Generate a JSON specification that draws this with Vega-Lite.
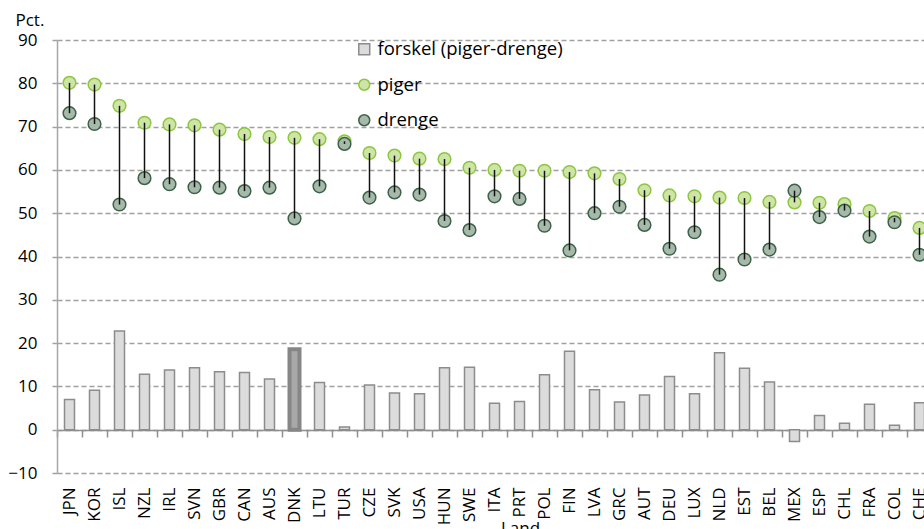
{
  "$schema": "https://vega.github.io/schema/vega-lite/v6.json",
  "width": 867,
  "height": 433,
  "autosize": {"type": "none"},
  "padding": {"left": 57, "top": 40, "right": 0, "bottom": 56},
  "config": {
    "font": "Open Sans",
    "view": {"stroke": null},
    "axis": {"labelColor": "#000000", "titleColor": "#000000", "titleFontWeight": "normal"}
  },
  "data": {
    "values": [
      {"land": "JPN", "piger": 80.1, "drenge": 73.1, "forskel": 7.0},
      {"land": "KOR", "piger": 79.7, "drenge": 70.6, "forskel": 9.1},
      {"land": "ISL", "piger": 74.8, "drenge": 52.0, "forskel": 22.8},
      {"land": "NZL", "piger": 70.9, "drenge": 58.1, "forskel": 12.8},
      {"land": "IRL", "piger": 70.5, "drenge": 56.7, "forskel": 13.8},
      {"land": "SVN", "piger": 70.3, "drenge": 56.0, "forskel": 14.3},
      {"land": "GBR", "piger": 69.3, "drenge": 55.9, "forskel": 13.4},
      {"land": "CAN", "piger": 68.3, "drenge": 55.1, "forskel": 13.2},
      {"land": "AUS", "piger": 67.6, "drenge": 55.9, "forskel": 11.7},
      {"land": "DNK", "piger": 67.4, "drenge": 48.8, "forskel": 18.6},
      {"land": "LTU", "piger": 67.1, "drenge": 56.2, "forskel": 10.9},
      {"land": "TUR", "piger": 66.6, "drenge": 66.0, "forskel": 0.6},
      {"land": "CZE", "piger": 63.9, "drenge": 53.6, "forskel": 10.3},
      {"land": "SVK", "piger": 63.3, "drenge": 54.8, "forskel": 8.5},
      {"land": "USA", "piger": 62.6, "drenge": 54.3, "forskel": 8.3},
      {"land": "HUN", "piger": 62.5, "drenge": 48.2, "forskel": 14.3},
      {"land": "SWE", "piger": 60.5, "drenge": 46.1, "forskel": 14.4},
      {"land": "ITA", "piger": 60.0, "drenge": 53.9, "forskel": 6.1},
      {"land": "PRT", "piger": 59.8, "drenge": 53.3, "forskel": 6.5},
      {"land": "POL", "piger": 59.8, "drenge": 47.1, "forskel": 12.7},
      {"land": "FIN", "piger": 59.5, "drenge": 41.4, "forskel": 18.1},
      {"land": "LVA", "piger": 59.2, "drenge": 50.0, "forskel": 9.2},
      {"land": "GRC", "piger": 57.9, "drenge": 51.5, "forskel": 6.4},
      {"land": "AUT", "piger": 55.3, "drenge": 47.3, "forskel": 8.0},
      {"land": "DEU", "piger": 54.1, "drenge": 41.8, "forskel": 12.3},
      {"land": "LUX", "piger": 53.9, "drenge": 45.6, "forskel": 8.3},
      {"land": "NLD", "piger": 53.6, "drenge": 35.8, "forskel": 17.8},
      {"land": "EST", "piger": 53.5, "drenge": 39.3, "forskel": 14.2},
      {"land": "BEL", "piger": 52.6, "drenge": 41.6, "forskel": 11.0},
      {"land": "MEX", "piger": 52.5, "drenge": 55.2, "forskel": -2.7},
      {"land": "ESP", "piger": 52.4, "drenge": 49.1, "forskel": 3.3},
      {"land": "CHL", "piger": 52.1, "drenge": 50.6, "forskel": 1.5},
      {"land": "FRA", "piger": 50.5, "drenge": 44.6, "forskel": 5.9},
      {"land": "COL", "piger": 48.9, "drenge": 47.9, "forskel": 1.0},
      {"land": "CHE", "piger": 46.6, "drenge": 40.4, "forskel": 6.2}
    ]
  },
  "layer": [
    {
      "transform": [{"fold": ["forskel"], "as": ["key", "value"]}],
      "mark": {"type": "bar", "width": {"band": 0.4}},
      "encoding": {
        "x": {
          "field": "land", "type": "nominal", "sort": null,
          "scale": {"range": [0, 875], "paddingInner": 0, "paddingOuter": 0},
          "axis": {
            "orient": "bottom", "domain": false, "ticks": false, "grid": false,
            "labelAngle": -90, "labelFontSize": 17, "labelPadding": 14,
            "title": "Land", "titleFontSize": 17, "titleX": 463, "titleY": 47,
            "titleBaseline": "top", "titleAlign": "center"
          }
        },
        "y": {
          "field": "value", "type": "quantitative",
          "scale": {"domain": [-10, 90], "nice": false, "zero": false},
          "axis": {
            "values": [-10, 0, 10, 20, 30, 40, 50, 60, 70, 80, 90],
            "grid": true, "gridDash": [5, 3], "gridColor": "#a0a0a0", "gridWidth": 1.5,
            "domainColor": "#a6a6a6", "domainWidth": 1.5,
            "tickColor": "#a0a0a0", "tickSize": 7, "tickWidth": 1.5, "tickDash": [5, 3],
            "labelFontSize": 17, "labelPadding": 13,
            "title": "Pct.", "titleAngle": 0, "titleFontSize": 17,
            "titleX": -42, "titleY": -15, "titleAlign": "left", "titleBaseline": "alphabetic"
          }
        },
        "fill": {
          "condition": {"test": "datum.land === 'DNK'", "value": "#a8a8a8"},
          "field": "key", "type": "nominal",
          "scale": {"domain": ["forskel", "piger", "drenge"], "range": ["#dcdcdc", "#cfe5a8", "#a6b9ab"]},
          "legend": {
            "orient": "none", "legendX": 298, "legendY": 0, "title": null,
            "labelFontSize": 18.5, "labelColor": "#000000", "labelLimit": 400,
            "symbolSize": 120, "symbolStrokeWidth": 1.5,
            "rowPadding": 16.5, "labelOffset": 4,
            "labelExpr": "datum.label === 'forskel' ? 'forskel (piger-drenge)' : datum.label"
          }
        },
        "stroke": {
          "condition": {"test": "datum.land === 'DNK'", "value": "#868686"},
          "field": "key", "type": "nominal",
          "scale": {"domain": ["forskel", "piger", "drenge"], "range": ["#8c8c8c", "#8dc63f", "#3d6149"]}
        },
        "strokeWidth": {"condition": {"test": "datum.land === 'DNK'", "value": 4}, "value": 1.5}
      }
    },
    {
      "transform": [{"fold": ["piger", "drenge"], "as": ["key", "value"]}],
      "mark": {"type": "point", "filled": true, "size": 160, "strokeWidth": 1.5, "opacity": 1},
      "encoding": {
        "x": {"field": "land", "type": "nominal", "sort": null, "axis": null},
        "y": {"field": "value", "type": "quantitative"},
        "fill": {"field": "key", "type": "nominal"},
        "stroke": {"field": "key", "type": "nominal"},
        "shape": {
          "field": "key", "type": "nominal",
          "scale": {"domain": ["forskel", "piger", "drenge"], "range": ["square", "circle", "circle"]}
        }
      }
    },
    {
      "mark": {"type": "rule", "color": "#111111", "strokeWidth": 1.5},
      "encoding": {
        "x": {
          "field": "land", "type": "nominal", "sort": null,
          "axis": {
            "orient": "top", "offset": -390, "labels": false, "title": null, "grid": false,
            "domain": true, "domainColor": "#8f8f8f", "domainWidth": 1.5,
            "ticks": true, "tickBand": "extent", "tickSize": -7, "tickColor": "#8f8f8f", "tickWidth": 1.5
          }
        },
        "y": {"field": "piger", "type": "quantitative"},
        "y2": {"field": "drenge"}
      }
    }
  ]
}
